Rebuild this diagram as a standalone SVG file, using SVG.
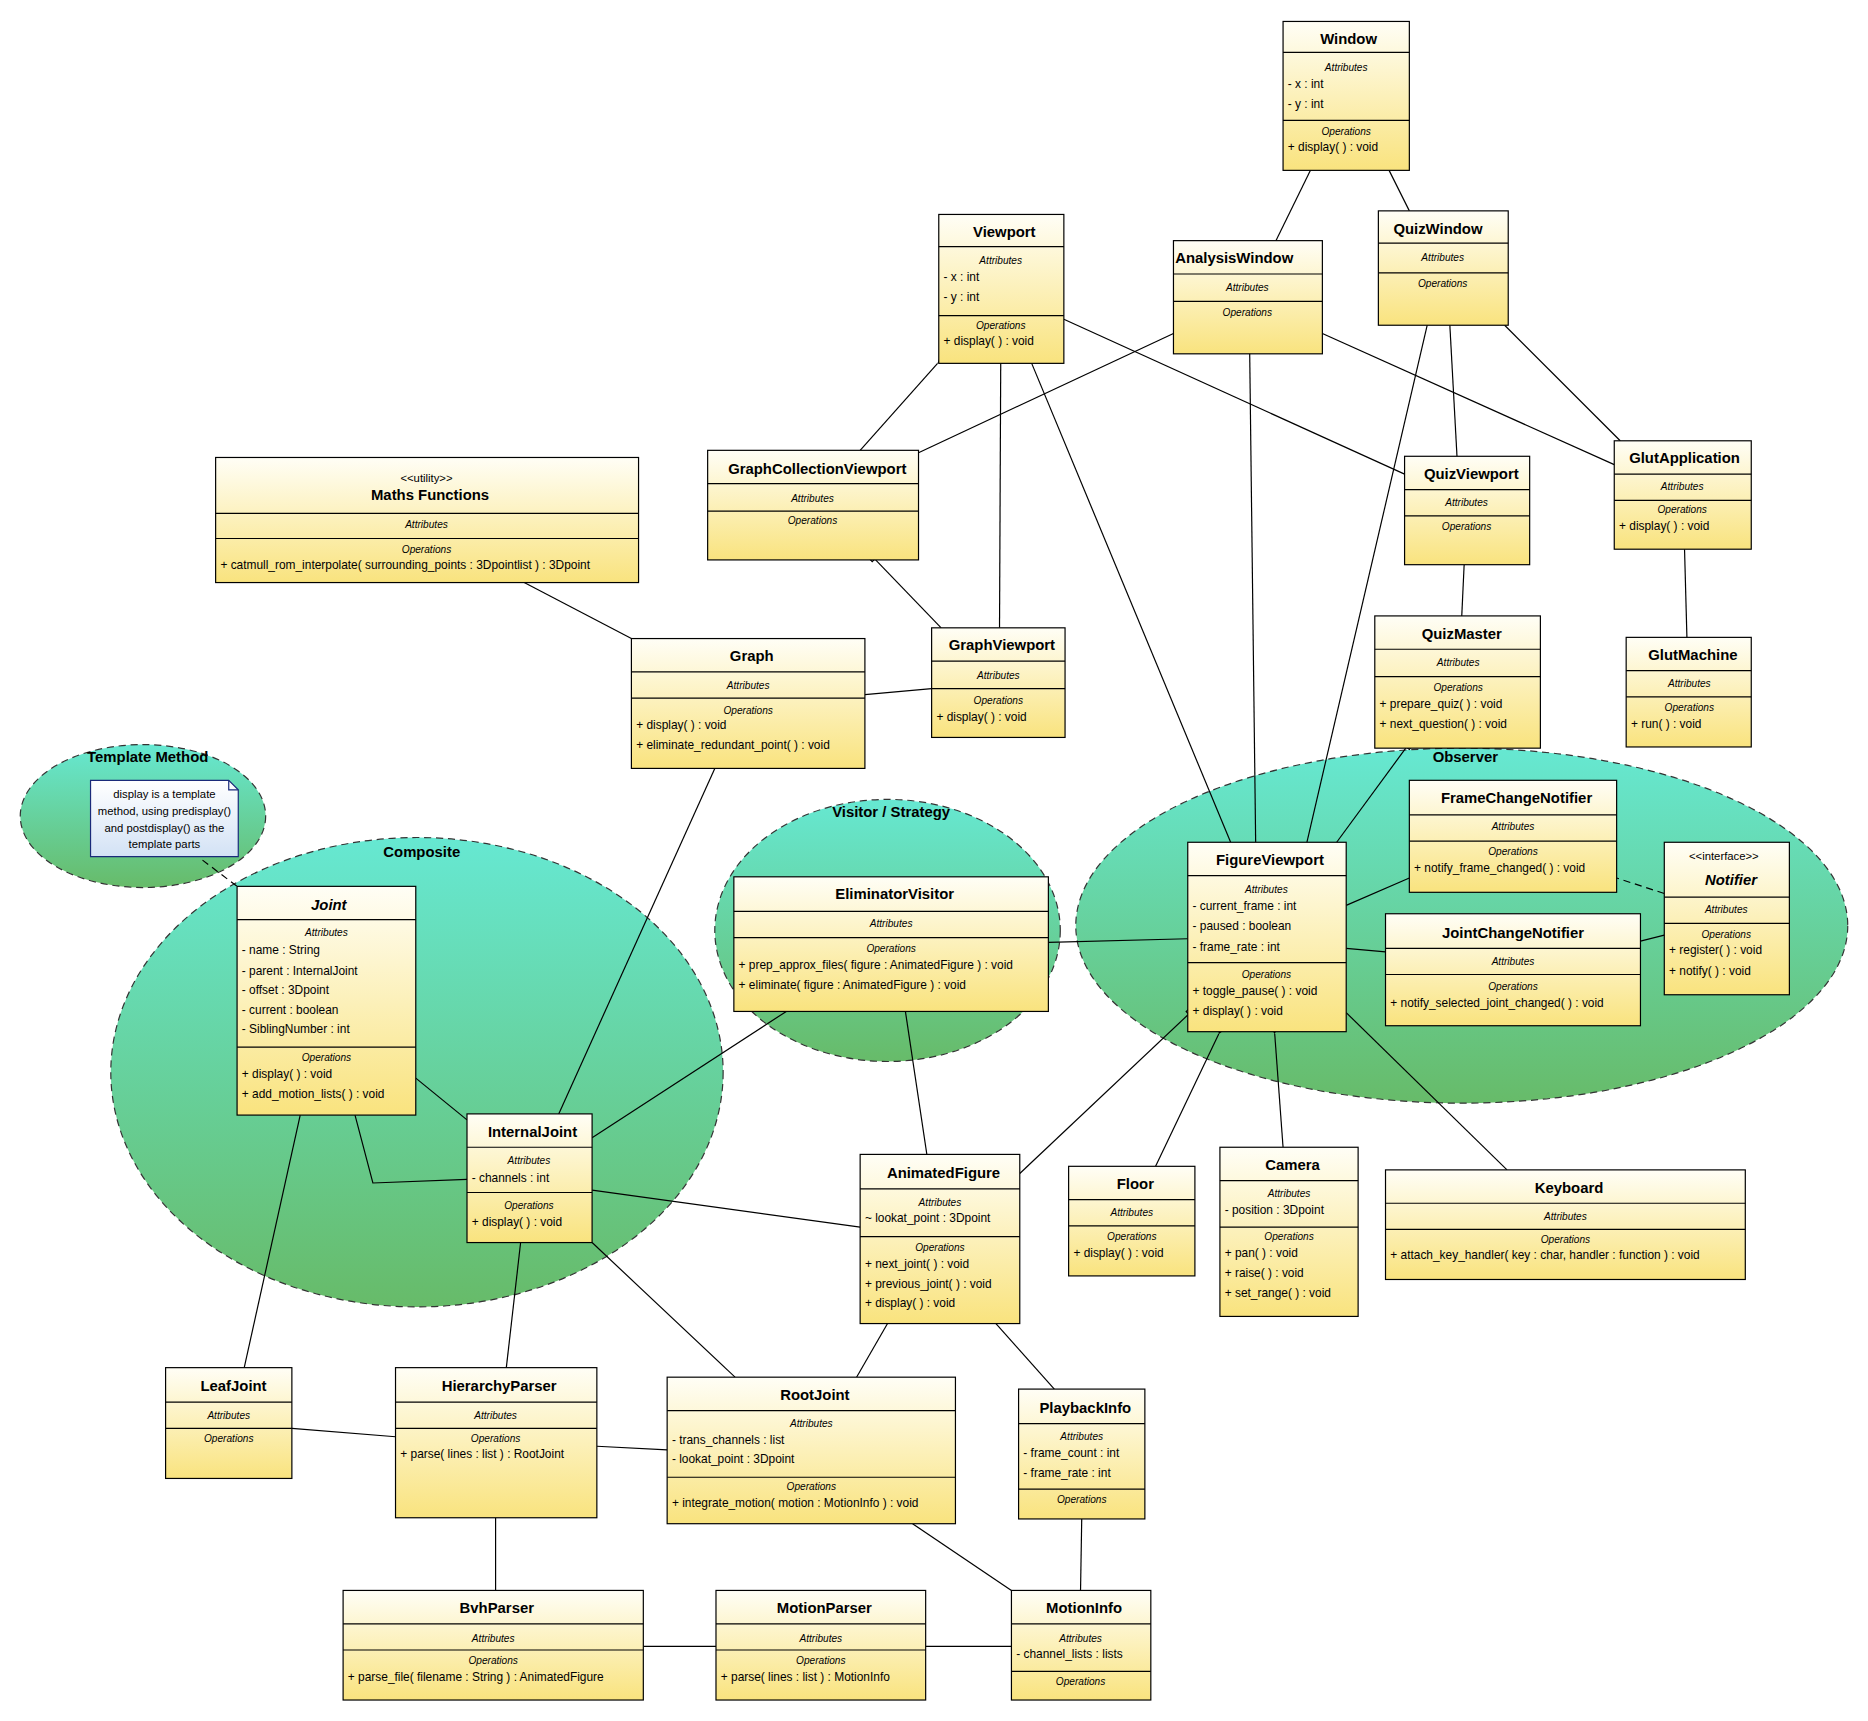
<svg xmlns="http://www.w3.org/2000/svg" width="1868" height="1721" viewBox="0 0 1868 1721">
<style>
text{font-family:"Liberation Sans",Arial,sans-serif;fill:#000}
.b{fill:url(#bg);stroke:#000;stroke-width:1}
.s{stroke:#000;stroke-width:1}
.t{font-size:12.5px;font-weight:bold;text-anchor:middle}
.ti{font-size:12.5px;font-weight:bold;font-style:italic;text-anchor:middle}
.l{font-size:8.5px;font-style:italic;text-anchor:middle}
.i{font-size:10px}
.st{font-size:9.5px;text-anchor:middle}
.g{fill:url(#eg);stroke:#333;stroke-dasharray:6,4;stroke-width:1}
.gl{font-size:12.5px;font-weight:bold;text-anchor:middle}
.c line,.c polyline{stroke:#000;stroke-width:1;fill:none}
.n{font-size:9.5px;text-anchor:middle}
</style>
<defs>
<linearGradient id="bg" x1="0" y1="0" x2="0" y2="1"><stop offset="0" stop-color="#fffef6"/><stop offset="1" stop-color="#f9e37e"/></linearGradient>
<linearGradient id="eg" x1="0" y1="0" x2="0" y2="1"><stop offset="0" stop-color="#66e8d2"/><stop offset="1" stop-color="#67bb69"/></linearGradient>
<linearGradient id="ng" x1="0" y1="0" x2="0" y2="1"><stop offset="0" stop-color="#ffffff"/><stop offset="1" stop-color="#d3e2f5"/></linearGradient>
<marker id="tri" viewBox="0 0 12 10" refX="0" refY="5" markerWidth="12" markerHeight="10" markerUnits="userSpaceOnUse" orient="auto-start-reverse"><path d="M11,1 L1,5 L11,9 Z" fill="#fff" stroke="#000"/></marker>
<marker id="fd" viewBox="0 0 14 8" refX="0" refY="4" markerWidth="14" markerHeight="8" markerUnits="userSpaceOnUse" orient="auto-start-reverse"><path d="M1,4 L7,1 L13,4 L7,7 Z" fill="#000" stroke="#000"/></marker>
<marker id="hd" viewBox="0 0 14 8" refX="0" refY="4" markerWidth="14" markerHeight="8" markerUnits="userSpaceOnUse" orient="auto-start-reverse"><path d="M1,4 L7,1 L13,4 L7,7 Z" fill="#fff" stroke="#000"/></marker>
<marker id="sq" viewBox="0 0 8 8" refX="0" refY="4" markerWidth="8" markerHeight="8" markerUnits="userSpaceOnUse" orient="auto-start-reverse"><path d="M1,1 L7,1 L7,7 L1,7 Z" fill="#fff" stroke="#000"/></marker>
</defs>
<rect width="1868" height="1721" fill="#fff"/>
<g transform="scale(1.19133)">
<g id="patterns">
<ellipse class="g" cx="120" cy="685" rx="103" ry="60"/>
<text class="gl" x="124" y="640">Template Method</text>
<ellipse class="g" cx="350" cy="900" rx="257" ry="197"/>
<text class="gl" x="354" y="719">Composite</text>
<ellipse class="g" cx="745" cy="781" rx="145" ry="110"/>
<text class="gl" x="748" y="686">Visitor / Strategy</text>
<ellipse class="g" cx="1227" cy="777" rx="324" ry="149"/>
<text class="gl" x="1230" y="640">Observer</text>
</g>
<g class="c" id="connectors">
<line x1="1100" y1="143" x2="1071" y2="202" marker-start="url(#tri)"/>
<line x1="1166" y1="143" x2="1183" y2="177" marker-start="url(#tri)"/>
<line x1="787" y1="305" x2="722" y2="378" marker-start="url(#tri)"/>
<line x1="840" y1="305" x2="839" y2="527" marker-start="url(#tri)"/>
<line x1="866" y1="305" x2="1033" y2="707" marker-start="url(#tri)"/>
<line x1="893" y1="268" x2="1179" y2="398" marker-start="url(#tri)"/>
<line x1="985" y1="280" x2="771" y2="380" marker-start="url(#fd)"/>
<line x1="1049" y1="297" x2="1054" y2="707" marker-start="url(#fd)"/>
<line x1="1355" y1="390" x2="1110" y2="280" marker-start="url(#fd)"/>
<line x1="1198" y1="273" x2="1097" y2="707" marker-start="url(#fd)"/>
<line x1="1217" y1="273" x2="1223" y2="383" marker-start="url(#fd)"/>
<line x1="1360" y1="370" x2="1263" y2="273" marker-start="url(#fd)"/>
<line x1="1416" y1="535" x2="1414" y2="461" marker-start="url(#fd)"/>
<line x1="1227" y1="517" x2="1229" y2="474" marker-start="url(#hd)"/>
<line x1="1180" y1="628" x2="1122" y2="707" marker-start="url(#sq)"/>
<line x1="440" y1="489" x2="530" y2="536"/>
<line x1="735" y1="470" x2="790" y2="527" marker-start="url(#sq)"/>
<line x1="782" y1="578" x2="726" y2="583" marker-start="url(#hd)"/>
<line x1="600" y1="645" x2="469" y2="935" marker-start="url(#hd)"/>
<line x1="997" y1="788" x2="880" y2="791" marker-start="url(#hd)"/>
<line x1="1130" y1="760" x2="1183" y2="737" marker-start="url(#hd)"/>
<line x1="1130" y1="796" x2="1163" y2="799" marker-start="url(#hd)"/>
<line x1="1397" y1="750" x2="1357" y2="737" marker-start="url(#tri)" stroke-dasharray="6,4"/>
<line x1="1397" y1="785" x2="1377" y2="790" marker-start="url(#tri)"/>
<line x1="997" y1="852" x2="856" y2="985" marker-start="url(#sq)"/>
<line x1="1023" y1="868" x2="970" y2="979" marker-start="url(#hd)"/>
<line x1="1070" y1="868" x2="1077" y2="963" marker-start="url(#hd)"/>
<line x1="1130" y1="850" x2="1265" y2="982"/>
<line x1="660" y1="849" x2="497" y2="955"/>
<line x1="760" y1="849" x2="778" y2="969"/>
<line x1="722" y1="1030" x2="497" y2="999" marker-start="url(#hd)"/>
<line x1="349" y1="905" x2="392" y2="940" marker-start="url(#tri)"/>
<polyline points="392,990 313,993 298,936" marker-start="url(#hd)"/>
<line x1="252" y1="936" x2="205" y2="1148" marker-start="url(#tri)"/>
<line x1="437" y1="1043" x2="425" y2="1148"/>
<line x1="497" y1="1043" x2="617" y2="1156" marker-start="url(#tri)"/>
<line x1="745" y1="1111" x2="719" y2="1156" marker-start="url(#hd)"/>
<line x1="836" y1="1111" x2="885" y2="1166" marker-start="url(#hd)"/>
<line x1="245" y1="1199" x2="332" y2="1206"/>
<line x1="501" y1="1214" x2="560" y2="1217"/>
<line x1="416" y1="1274" x2="416" y2="1335"/>
<line x1="540" y1="1382" x2="601" y2="1382"/>
<line x1="777" y1="1382" x2="849" y2="1382"/>
<line x1="766" y1="1279" x2="849" y2="1335"/>
<line x1="907" y1="1335" x2="908" y2="1275" marker-start="url(#hd)"/>
<line x1="170" y1="722" x2="199" y2="744" stroke-dasharray="6,4"/>
</g>
<g id="note">
<path d="M76,655 H192 L200,663 V719 H76 Z" fill="url(#ng)" stroke="#1a2a7a"/>
<path d="M192,655 V663 H200" fill="none" stroke="#1a2a7a"/>
<text class="n" x="138" y="670">display is a template</text>
<text class="n" x="138" y="684">method, using predisplay()</text>
<text class="n" x="138" y="698">and postdisplay() as the</text>
<text class="n" x="138" y="712">template parts</text>
</g>
<g id="Window"><rect class="b" x="1077" y="18" width="106" height="125"/><line class="s" x1="1077" y1="44" x2="1183" y2="44"/><line class="s" x1="1077" y1="101" x2="1183" y2="101"/>
<text class="t" x="1132" y="37">Window</text><text class="l" x="1130" y="60">Attributes</text><text class="i" x="1081" y="74">- x : int</text><text class="i" x="1081" y="91">- y : int</text><text class="l" x="1130" y="113">Operations</text><text class="i" x="1081" y="127">+ display(  ) : void</text></g>
<g id="Viewport"><rect class="b" x="788" y="180" width="105" height="125"/><line class="s" x1="788" y1="207" x2="893" y2="207"/><line class="s" x1="788" y1="265" x2="893" y2="265"/>
<text class="t" x="843" y="199">Viewport</text><text class="l" x="840" y="222">Attributes</text><text class="i" x="792" y="236">- x : int</text><text class="i" x="792" y="253">- y : int</text><text class="l" x="840" y="276">Operations</text><text class="i" x="792" y="290">+ display(  ) : void</text></g>
<g id="AnalysisWindow"><rect class="b" x="985" y="202" width="125" height="95"/><line class="s" x1="985" y1="230" x2="1110" y2="230"/><line class="s" x1="985" y1="253" x2="1110" y2="253"/>
<text class="t" x="1036" y="221">AnalysisWindow</text><text class="l" x="1047" y="244">Attributes</text><text class="l" x="1047" y="265">Operations</text></g>
<g id="QuizWindow"><rect class="b" x="1157" y="177" width="109" height="96"/><line class="s" x1="1157" y1="204" x2="1266" y2="204"/><line class="s" x1="1157" y1="229" x2="1266" y2="229"/>
<text class="t" x="1207" y="196">QuizWindow</text><text class="l" x="1211" y="219">Attributes</text><text class="l" x="1211" y="241">Operations</text></g>
<g id="MathsFunctions"><rect class="b" x="181" y="384" width="355" height="105"/><line class="s" x1="181" y1="431" x2="536" y2="431"/><line class="s" x1="181" y1="452" x2="536" y2="452"/>
<text class="st" x="358" y="405">&lt;&lt;utility&gt;&gt;</text><text class="t" x="361" y="420">Maths Functions</text><text class="l" x="358" y="443">Attributes</text><text class="l" x="358" y="464">Operations</text><text class="i" x="185" y="478">+ catmull_rom_interpolate( surrounding_points : 3Dpointlist ) : 3Dpoint</text></g>
<g id="GraphCollectionViewport"><rect class="b" x="594" y="378" width="177" height="92"/><line class="s" x1="594" y1="406" x2="771" y2="406"/><line class="s" x1="594" y1="429" x2="771" y2="429"/>
<text class="t" x="686" y="398">GraphCollectionViewport</text><text class="l" x="682" y="421">Attributes</text><text class="l" x="682" y="440">Operations</text></g>
<g id="QuizViewport"><rect class="b" x="1179" y="383" width="105" height="91"/><line class="s" x1="1179" y1="411" x2="1284" y2="411"/><line class="s" x1="1179" y1="433" x2="1284" y2="433"/>
<text class="t" x="1235" y="402">QuizViewport</text><text class="l" x="1231" y="425">Attributes</text><text class="l" x="1231" y="445">Operations</text></g>
<g id="GlutApplication"><rect class="b" x="1355" y="370" width="115" height="91"/><line class="s" x1="1355" y1="398" x2="1470" y2="398"/><line class="s" x1="1355" y1="420" x2="1470" y2="420"/>
<text class="t" x="1414" y="389">GlutApplication</text><text class="l" x="1412" y="411">Attributes</text><text class="l" x="1412" y="431">Operations</text><text class="i" x="1359" y="445">+ display(  ) : void</text></g>
<g id="Graph"><rect class="b" x="530" y="536" width="196" height="109"/><line class="s" x1="530" y1="564" x2="726" y2="564"/><line class="s" x1="530" y1="586" x2="726" y2="586"/>
<text class="t" x="631" y="555">Graph</text><text class="l" x="628" y="578">Attributes</text><text class="l" x="628" y="599">Operations</text><text class="i" x="534" y="612">+ display(  ) : void</text><text class="i" x="534" y="629">+ eliminate_redundant_point(  ) : void</text></g>
<g id="GraphViewport"><rect class="b" x="782" y="527" width="112" height="92"/><line class="s" x1="782" y1="555" x2="894" y2="555"/><line class="s" x1="782" y1="578" x2="894" y2="578"/>
<text class="t" x="841" y="546">GraphViewport</text><text class="l" x="838" y="570">Attributes</text><text class="l" x="838" y="591">Operations</text><text class="i" x="786" y="605">+ display(  ) : void</text></g>
<g id="QuizMaster"><rect class="b" x="1154" y="517" width="139" height="111"/><line class="s" x1="1154" y1="545" x2="1293" y2="545"/><line class="s" x1="1154" y1="568" x2="1293" y2="568"/>
<text class="t" x="1227" y="536">QuizMaster</text><text class="l" x="1224" y="559">Attributes</text><text class="l" x="1224" y="580">Operations</text><text class="i" x="1158" y="594">+ prepare_quiz(  ) : void</text><text class="i" x="1158" y="611">+ next_question(  ) : void</text></g>
<g id="GlutMachine"><rect class="b" x="1365" y="535" width="105" height="92"/><line class="s" x1="1365" y1="563" x2="1470" y2="563"/><line class="s" x1="1365" y1="585" x2="1470" y2="585"/>
<text class="t" x="1421" y="554">GlutMachine</text><text class="l" x="1418" y="577">Attributes</text><text class="l" x="1418" y="597">Operations</text><text class="i" x="1369" y="611">+ run(  ) : void</text></g>
<g id="Joint"><rect class="b" x="199" y="744" width="150" height="192"/><line class="s" x1="199" y1="772" x2="349" y2="772"/><line class="s" x1="199" y1="879" x2="349" y2="879"/>
<text class="ti" x="276" y="764">Joint</text><text class="l" x="274" y="786">Attributes</text><text class="i" x="203" y="801">- name : String</text><text class="i" x="203" y="818">- parent : InternalJoint</text><text class="i" x="203" y="834">- offset : 3Dpoint</text><text class="i" x="203" y="851">- current : boolean</text><text class="i" x="203" y="867">- SiblingNumber : int</text><text class="l" x="274" y="891">Operations</text><text class="i" x="203" y="905">+ display(  ) : void</text><text class="i" x="203" y="922">+ add_motion_lists(  ) : void</text></g>
<g id="InternalJoint"><rect class="b" x="392" y="935" width="105" height="108"/><line class="s" x1="392" y1="963" x2="497" y2="963"/><line class="s" x1="392" y1="1001" x2="497" y2="1001"/>
<text class="t" x="447" y="954">InternalJoint</text><text class="l" x="444" y="977">Attributes</text><text class="i" x="396" y="992">- channels : int</text><text class="l" x="444" y="1015">Operations</text><text class="i" x="396" y="1029">+ display(  ) : void</text></g>
<g id="EliminatorVisitor"><rect class="b" x="616" y="736" width="264" height="113"/><line class="s" x1="616" y1="765" x2="880" y2="765"/><line class="s" x1="616" y1="787" x2="880" y2="787"/>
<text class="t" x="751" y="755">EliminatorVisitor</text><text class="l" x="748" y="778">Attributes</text><text class="l" x="748" y="799">Operations</text><text class="i" x="620" y="813">+ prep_approx_files( figure : AnimatedFigure ) : void</text><text class="i" x="620" y="830">+ eliminate( figure : AnimatedFigure ) : void</text></g>
<g id="FigureViewport"><rect class="b" x="997" y="707" width="133" height="159"/><line class="s" x1="997" y1="735" x2="1130" y2="735"/><line class="s" x1="997" y1="808" x2="1130" y2="808"/>
<text class="t" x="1066" y="726">FigureViewport</text><text class="l" x="1063" y="750">Attributes</text><text class="i" x="1001" y="764">- current_frame : int</text><text class="i" x="1001" y="781">- paused : boolean</text><text class="i" x="1001" y="798">- frame_rate : int</text><text class="l" x="1063" y="821">Operations</text><text class="i" x="1001" y="835">+ toggle_pause(  ) : void</text><text class="i" x="1001" y="852">+ display(  ) : void</text></g>
<g id="FrameChangeNotifier"><rect class="b" x="1183" y="655" width="174" height="94"/><line class="s" x1="1183" y1="684" x2="1357" y2="684"/><line class="s" x1="1183" y1="706" x2="1357" y2="706"/>
<text class="t" x="1273" y="674">FrameChangeNotifier</text><text class="l" x="1270" y="697">Attributes</text><text class="l" x="1270" y="718">Operations</text><text class="i" x="1187" y="732">+ notify_frame_changed(  ) : void</text></g>
<g id="Notifier"><rect class="b" x="1397" y="707" width="105" height="128"/><line class="s" x1="1397" y1="753" x2="1502" y2="753"/><line class="s" x1="1397" y1="775" x2="1502" y2="775"/>
<text class="st" x="1447" y="722">&lt;&lt;interface&gt;&gt;</text><text class="ti" x="1453" y="743">Notifier</text><text class="l" x="1449" y="766">Attributes</text><text class="l" x="1449" y="787">Operations</text><text class="i" x="1401" y="801">+ register(  ) : void</text><text class="i" x="1401" y="818">+ notify(  ) : void</text></g>
<g id="JointChangeNotifier"><rect class="b" x="1163" y="767" width="214" height="94"/><line class="s" x1="1163" y1="796" x2="1377" y2="796"/><line class="s" x1="1163" y1="818" x2="1377" y2="818"/>
<text class="t" x="1270" y="787">JointChangeNotifier</text><text class="l" x="1270" y="810">Attributes</text><text class="l" x="1270" y="831">Operations</text><text class="i" x="1167" y="845">+ notify_selected_joint_changed(  ) : void</text></g>
<g id="AnimatedFigure"><rect class="b" x="722" y="969" width="134" height="142"/><line class="s" x1="722" y1="998" x2="856" y2="998"/><line class="s" x1="722" y1="1038" x2="856" y2="1038"/>
<text class="t" x="792" y="989">AnimatedFigure</text><text class="l" x="789" y="1012">Attributes</text><text class="i" x="726" y="1026">~ lookat_point : 3Dpoint</text><text class="l" x="789" y="1050">Operations</text><text class="i" x="726" y="1064">+ next_joint(  ) : void</text><text class="i" x="726" y="1081">+ previous_joint(  ) : void</text><text class="i" x="726" y="1097">+ display(  ) : void</text></g>
<g id="Floor"><rect class="b" x="897" y="979" width="106" height="92"/><line class="s" x1="897" y1="1007" x2="1003" y2="1007"/><line class="s" x1="897" y1="1029" x2="1003" y2="1029"/>
<text class="t" x="953" y="998">Floor</text><text class="l" x="950" y="1021">Attributes</text><text class="l" x="950" y="1041">Operations</text><text class="i" x="901" y="1055">+ display(  ) : void</text></g>
<g id="Camera"><rect class="b" x="1024" y="963" width="116" height="142"/><line class="s" x1="1024" y1="991" x2="1140" y2="991"/><line class="s" x1="1024" y1="1030" x2="1140" y2="1030"/>
<text class="t" x="1085" y="982">Camera</text><text class="l" x="1082" y="1005">Attributes</text><text class="i" x="1028" y="1019">- position : 3Dpoint</text><text class="l" x="1082" y="1041">Operations</text><text class="i" x="1028" y="1055">+ pan(  ) : void</text><text class="i" x="1028" y="1072">+ raise(  ) : void</text><text class="i" x="1028" y="1089">+ set_range(  ) : void</text></g>
<g id="Keyboard"><rect class="b" x="1163" y="982" width="302" height="92"/><line class="s" x1="1163" y1="1010" x2="1465" y2="1010"/><line class="s" x1="1163" y1="1032" x2="1465" y2="1032"/>
<text class="t" x="1317" y="1001">Keyboard</text><text class="l" x="1314" y="1024">Attributes</text><text class="l" x="1314" y="1043">Operations</text><text class="i" x="1167" y="1057">+ attach_key_handler( key : char, handler : function ) : void</text></g>
<g id="LeafJoint"><rect class="b" x="139" y="1148" width="106" height="93"/><line class="s" x1="139" y1="1177" x2="245" y2="1177"/><line class="s" x1="139" y1="1199" x2="245" y2="1199"/>
<text class="t" x="196" y="1168">LeafJoint</text><text class="l" x="192" y="1191">Attributes</text><text class="l" x="192" y="1210">Operations</text></g>
<g id="HierarchyParser"><rect class="b" x="332" y="1148" width="169" height="126"/><line class="s" x1="332" y1="1177" x2="501" y2="1177"/><line class="s" x1="332" y1="1199" x2="501" y2="1199"/>
<text class="t" x="419" y="1168">HierarchyParser</text><text class="l" x="416" y="1191">Attributes</text><text class="l" x="416" y="1210">Operations</text><text class="i" x="336" y="1224">+ parse( lines : list ) : RootJoint</text></g>
<g id="RootJoint"><rect class="b" x="560" y="1156" width="242" height="123"/><line class="s" x1="560" y1="1184" x2="802" y2="1184"/><line class="s" x1="560" y1="1240" x2="802" y2="1240"/>
<text class="t" x="684" y="1175">RootJoint</text><text class="l" x="681" y="1198">Attributes</text><text class="i" x="564" y="1212">- trans_channels : list</text><text class="i" x="564" y="1228">- lookat_point : 3Dpoint</text><text class="l" x="681" y="1251">Operations</text><text class="i" x="564" y="1265">+ integrate_motion( motion : MotionInfo ) : void</text></g>
<g id="PlaybackInfo"><rect class="b" x="855" y="1166" width="106" height="109"/><line class="s" x1="855" y1="1195" x2="961" y2="1195"/><line class="s" x1="855" y1="1250" x2="961" y2="1250"/>
<text class="t" x="911" y="1186">PlaybackInfo</text><text class="l" x="908" y="1209">Attributes</text><text class="i" x="859" y="1223">- frame_count : int</text><text class="i" x="859" y="1240">- frame_rate : int</text><text class="l" x="908" y="1262">Operations</text></g>
<g id="BvhParser"><rect class="b" x="288" y="1335" width="252" height="92"/><line class="s" x1="288" y1="1363" x2="540" y2="1363"/><line class="s" x1="288" y1="1385" x2="540" y2="1385"/>
<text class="t" x="417" y="1354">BvhParser</text><text class="l" x="414" y="1378">Attributes</text><text class="l" x="414" y="1397">Operations</text><text class="i" x="292" y="1411">+ parse_file( filename : String ) : AnimatedFigure</text></g>
<g id="MotionParser"><rect class="b" x="601" y="1335" width="176" height="92"/><line class="s" x1="601" y1="1363" x2="777" y2="1363"/><line class="s" x1="601" y1="1385" x2="777" y2="1385"/>
<text class="t" x="692" y="1354">MotionParser</text><text class="l" x="689" y="1378">Attributes</text><text class="l" x="689" y="1397">Operations</text><text class="i" x="605" y="1411">+ parse( lines : list ) : MotionInfo</text></g>
<g id="MotionInfo"><rect class="b" x="849" y="1335" width="117" height="92"/><line class="s" x1="849" y1="1363" x2="966" y2="1363"/><line class="s" x1="849" y1="1403" x2="966" y2="1403"/>
<text class="t" x="910" y="1354">MotionInfo</text><text class="l" x="907" y="1378">Attributes</text><text class="i" x="853" y="1392">- channel_lists : lists</text><text class="l" x="907" y="1414">Operations</text></g>
</g>
</svg>
